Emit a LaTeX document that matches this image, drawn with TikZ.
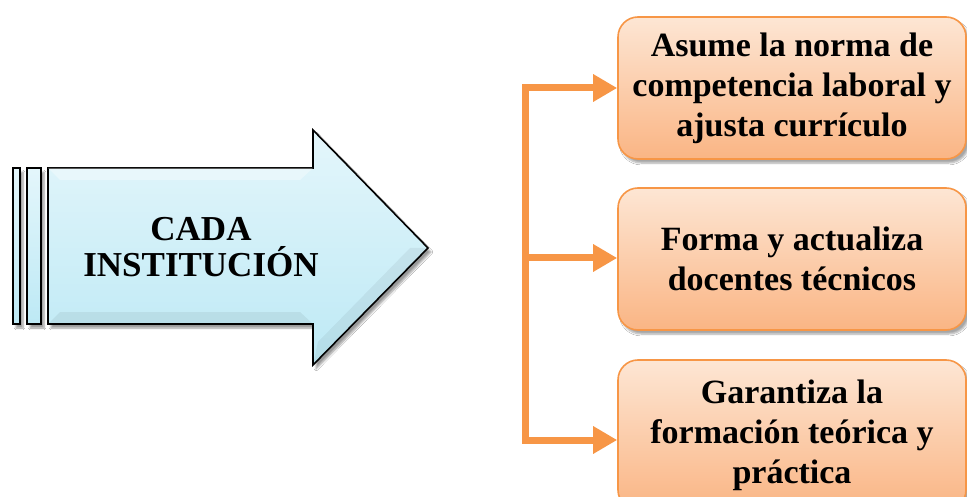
\documentclass[tikz,border=0pt]{standalone}
\usepackage{fontspec}
\setmainfont{Liberation Serif}
\usetikzlibrary{arrows.meta,shadows.blur,calc}
\definecolor{orangeline}{HTML}{F79646}
\definecolor{orangetop}{HTML}{FDE6D4}
\definecolor{orangebot}{HTML}{FAB584}
\definecolor{cyanlight}{HTML}{E4F6FB}
\definecolor{cyanmid}{HTML}{BDE9F5}
\tikzset{
  taskbox/.style={draw=orangeline, line width=1.6pt, rounded corners=20pt,
    top color=orangetop, bottom color=orangebot,
    minimum width=348pt, inner sep=0pt, align=center,
    font=\fontsize{34}{40}\selectfont\bfseries,
    blur shadow={shadow xshift=3pt, shadow yshift=-4pt, shadow blur steps=6, shadow opacity=35}},
  conn/.style={draw=orangeline, line width=7pt, line join=miter},
  tip/.style={-{Triangle[length=24pt,width=26pt]}},
  bigarrow/.style={draw=black, line width=1.6pt, line join=miter,
    top color=cyanlight, bottom color=cyanmid,
    blur shadow={shadow xshift=3pt, shadow yshift=-4pt, shadow blur steps=6, shadow opacity=40}},
}
\begin{document}
\begin{tikzpicture}[x=1pt,y=-1pt]
\useasboundingbox (0,0) rectangle (967,497);
\fill[white] (0,0) rectangle (967,497);

% striped tail of the big arrow
\path[bigarrow] (13,168) rectangle (20,324);
\path[bigarrow] (27,168) rectangle (41,324);
% big arrow
\path[bigarrow] (48,168) -- (313,168) -- (313,130) -- (428,248)
  -- (313,365) -- (313,324) -- (48,324) -- cycle;
% bevel highlights
\fill[white,opacity=0.35] (48,168) -- (313,168) -- (300,180) -- (60,180) -- cycle;
\fill[black,opacity=0.06] (48,324) -- (313,324) -- (300,312) -- (60,312) -- cycle;
\fill[black,opacity=0.05] (313,365) -- (428,248) -- (410,248) -- (318,342) -- cycle;
\node[align=center, font=\fontsize{35}{36}\selectfont\bfseries] (inst) at (201,247)
  {CADA\\INSTITUCIÓN};

% the three tasks
\node[taskbox, minimum height=142pt] (b1) at (792,88)
  {Asume la norma de\\competencia laboral y\\ajusta currículo};
\node[taskbox, minimum height=142pt] (b2) at (792,259)
  {Forma y actualiza\\docentes técnicos};
\node[taskbox, minimum height=150pt] (b3) at (792,435)
  {Garantiza la\\formación teórica y\\práctica};

% branching connector
\coordinate (top) at (525,88);
\coordinate (mid) at (525,258);
\coordinate (bot) at (525,440);
\draw[conn, {Triangle[length=24pt,width=26pt]}-{Triangle[length=24pt,width=26pt]}]
  (b1.west |- top) -- (top) -- (bot) -- (b3.west |- bot);
\draw[conn, tip] (mid) -- (b2.west |- mid);
\end{tikzpicture}
\end{document}
